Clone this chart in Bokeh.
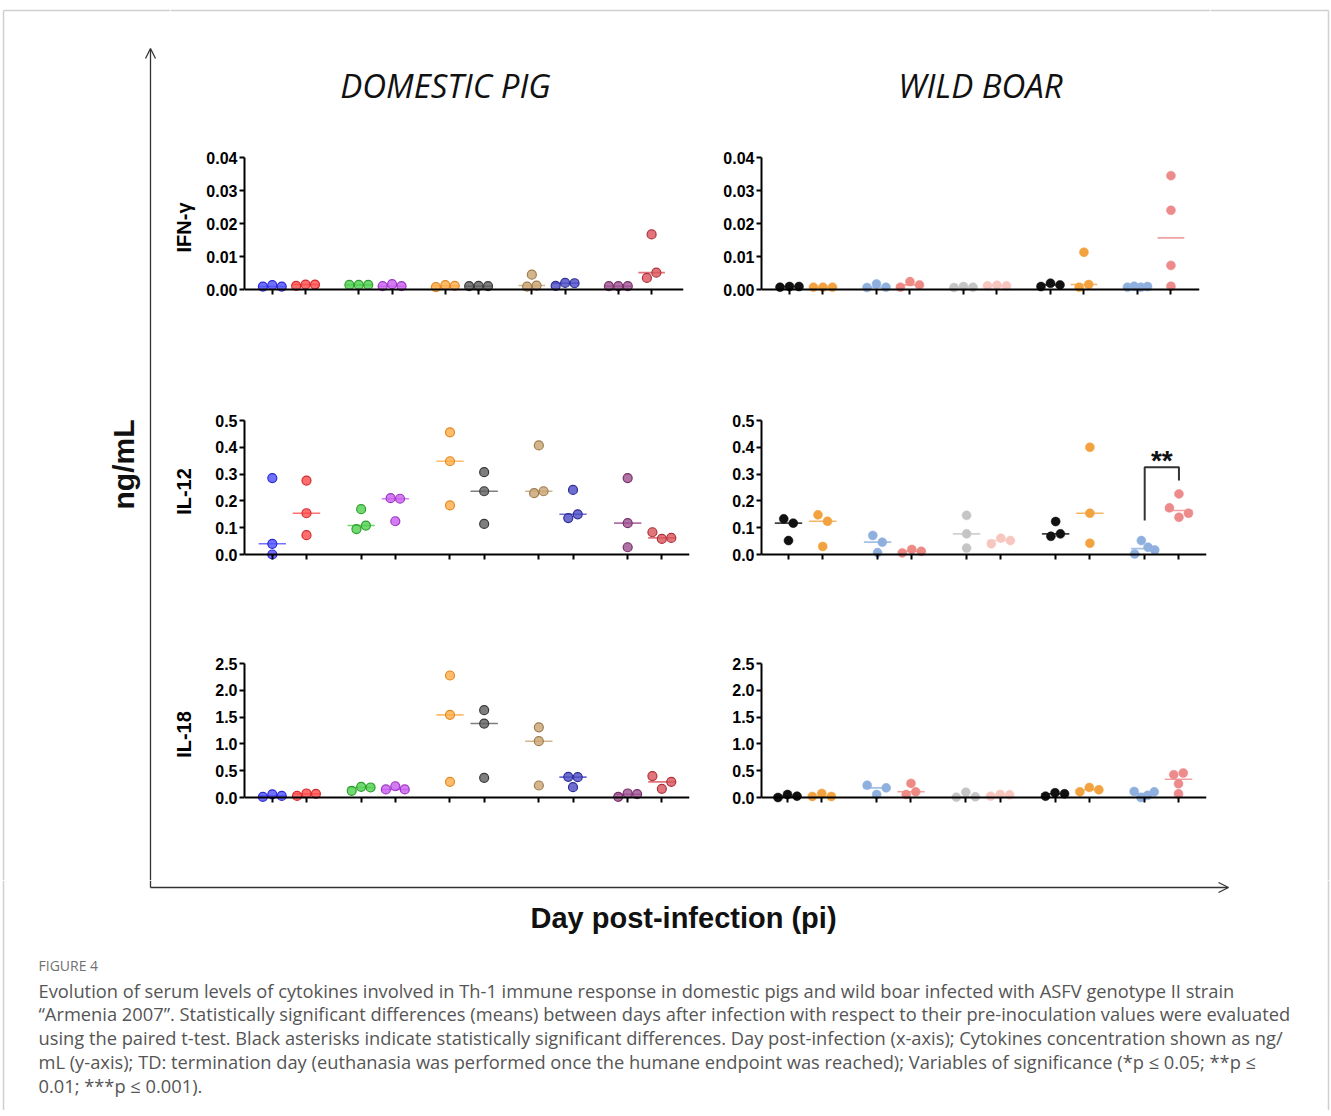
import math
from bokeh.plotting import figure
from bokeh.layouts import row, column
from bokeh.models import (Range1d, LinearAxis, FixedTicker, NumeralTickFormatter,
                          Arrow, OpenHead, ColumnDataSource)
from bokeh.core.properties import value
from bokeh.embed import file_html
from bokeh.resources import INLINE

# ---------------- data ----------------
day_labels = ["0", "1", "0", "2", "0", "3", "0", "5", "0", "TD"]
group_pos = [0, 1, 2.6, 3.6, 5.2, 6.2, 7.8, 8.8, 10.4, 11.4]

cytokines = ["IFN-γ", "IL-12", "IL-18"]
species = ["DOMESTIC PIG", "WILD BOAR"]

ifn_ticks = [0.0, 0.01, 0.02, 0.03, 0.04]
il12_ticks = [0.0, 0.1, 0.2, 0.3, 0.4, 0.5]
il18_ticks = [0.0, 0.5, 1.0, 1.5, 2.0, 2.5]

dp_ifn = [[0.0009, 0.0013, 0.0009], [0.0011, 0.0015, 0.0015], [0.0014, 0.0014, 0.0014],
          [0.0010, 0.0016, 0.0010], [0.0007, 0.0013, 0.0011], [0.0010, 0.0011, 0.0010],
          [0.0009, 0.0045, 0.0012], [0.0011, 0.0020, 0.0019], [0.0010, 0.0010, 0.0010],
          [0.0035, 0.0167, 0.0051]]
wb_ifn = [[0.0007, 0.0009, 0.0009], [0.0007, 0.0007, 0.0007], [0.0006, 0.0017, 0.0007],
          [0.0007, 0.0024, 0.0014], [0.0006, 0.0009, 0.0007], [0.0011, 0.0013, 0.0011],
          [0.0009, 0.0019, 0.0014], [0.0007, 0.0113, 0.0015], [0.0007, 0.0010, 0.0007, 0.0009],
          [0.0345, 0.0240, 0.0073, 0.0010]]
dp_il12 = [[0.285, 0.040, 0.0], [0.276, 0.154, 0.072], [0.095, 0.169, 0.108],
           [0.210, 0.124, 0.208], [0.456, 0.348, 0.183], [0.307, 0.236, 0.114],
           [0.229, 0.407, 0.236], [0.136, 0.241, 0.150], [0.285, 0.117, 0.027],
           [0.083, 0.058, 0.062]]
wb_il12 = [[0.133, 0.052, 0.117], [0.148, 0.030, 0.124], [0.071, 0.007, 0.046],
           [0.006, 0.019, 0.012], [0.146, 0.077, 0.024], [0.040, 0.061, 0.052],
           [0.068, 0.123, 0.077], [0.400, 0.154, 0.042], [0.002, 0.052, 0.027, 0.017],
           [0.174, 0.139, 0.226, 0.154]]
dp_il18 = [[0.012, 0.060, 0.030], [0.030, 0.075, 0.068], [0.124, 0.200, 0.187],
           [0.150, 0.210, 0.150], [2.276, 1.542, 0.292], [1.630, 1.380, 0.367],
           [1.310, 1.050, 0.224], [0.386, 0.193, 0.380], [0.012, 0.075, 0.062],
           [0.400, 0.162, 0.292]]
wb_il18 = [[0.0, 0.056, 0.025], [0.019, 0.075, 0.019], [0.230, 0.056, 0.180],
           [0.056, 0.263, 0.106], [0.006, 0.100, 0.012], [0.025, 0.056, 0.050],
           [0.025, 0.088, 0.069], [0.106, 0.188, 0.144], [0.113, 0.0, 0.040, 0.106],
           [0.426, 0.457, 0.257, 0.069]]

# significance: wild boar IL-12, day 0 vs TD
sig_groups = (8, 9)
sig_bracket_y = (0.127, 0.326, 0.276)
sig_label = "**"

caption_title = "FIGURE 4"
caption_lines = [
    "Evolution of serum levels of cytokines involved in Th-1 immune response in domestic pigs and wild boar infected with ASFV genotype II strain",
    "\u201cArmenia 2007\u201d. Statistically significant differences (means) between days after infection with respect to their pre-inoculation values were evaluated",
    "using the paired t-test. Black asterisks indicate statistically significant differences. Day post-infection (x-axis); Cytokines concentration shown as ng/",
    "mL (y-axis); TD: termination day (euthanasia was performed once the humane endpoint was reached); Variables of significance (*p \u2264 0.05; **p \u2264",
    "0.01; ***p \u2264 0.001).",
]

# ---------------- styles ----------------
dp_fill = ["#4d4dff", "#ff4a4a", "#4ccf4c", "#c95cf0", "#ffab47",
           "#5e5e5e", "#c9a472", "#4a4ac4", "#9e4f8e", "#d9525a"]
dp_edge = ["#2b2bd6", "#d42c2c", "#2f9e2f", "#9c38c4", "#e08a22",
           "#3a3a3a", "#a17c4c", "#2e2e96", "#77306a", "#ad343c"]
wb_fill = ["#111111", "#f2a23f", "#8fb0df", "#ed8a84", "#c5c5c5",
           "#f7c6be", "#111111", "#f2a23f", "#8fb0df", "#ec8a8c"]

TICK_FONT = "Liberation Sans"
BORDER = "#d0d0d0"
ARROW = "#333333"


def swarm(vals, px_per_y, thresh=7.0):
    """Beeswarm offsets (px): points closer than thresh in y are spread sideways."""
    n = len(vals)
    order = sorted(range(n), key=lambda i: vals[i])
    clusters = [[order[0]]]
    for a, b in zip(order, order[1:]):
        if (vals[b] - vals[a]) * px_per_y < thresh:
            clusters[-1].append(b)
        else:
            clusters.append([b])
    off = [0.0] * n
    for c in clusters:
        c = sorted(c)
        k = len(c)
        step = 9.5 if k <= 3 else 6.7
        for j, i in enumerate(c):
            off[i] = (j - (k - 1) / 2) * step
    return off


def median(v):
    s = sorted(v)
    n = len(s)
    return s[n // 2] if n % 2 else (s[n // 2 - 1] + s[n // 2]) / 2


def make_panel(groups, fills, edges, dp_style, ticks, fmt, ylabel, unit_px, first_px,
               width, mbl, mbr, height, mbt, mbb, label_standoff):
    top = ticks[-1]
    fh = height - mbt - mbb
    fw = width - mbl - mbr
    pad = 8
    y0 = -top * pad / (fh - pad)
    x0 = -first_px / unit_px
    xr = (x0, x0 + fw / unit_px)
    p = figure(width=width, height=height, x_range=Range1d(*xr), y_range=Range1d(y0, top),
               x_axis_type=None, y_axis_type=None, toolbar_location=None,
               output_backend="svg", min_border_left=mbl, min_border_right=mbr,
               min_border_top=mbt, min_border_bottom=mbb, outline_line_color=None,
               background_fill_color="white", border_fill_color="white")
    px_x = unit_px
    px_y = fh / (top - y0)

    xs, ys, fc, lc = [], [], [], []
    for g, vals in enumerate(groups):
        offs = swarm(vals, px_y)
        for v, o in zip(vals, offs):
            xs.append(group_pos[g] + o / px_x)
            ys.append(v)
            fc.append(fills[g])
            lc.append(edges[g])
    mx0 = [gp - 0.4 for gp in group_pos]
    mx1 = [gp + 0.4 for gp in group_pos]
    med = [median(v) for v in groups]
    p.segment(x0=mx0, x1=mx1, y0=med, y1=med, line_color=fills,
              line_width=1.6, line_alpha=0.8)
    src = ColumnDataSource(dict(x=xs, y=ys, fc=fc, lc=lc))
    p.scatter("x", "y", source=src, size=9, fill_color="fc", line_color="lc",
              fill_alpha=0.8 if dp_style else 1.0, line_width=1.2 if dp_style else 0.5)

    yaxis = LinearAxis(ticker=FixedTicker(ticks=ticks), formatter=NumeralTickFormatter(format=fmt),
                       bounds=(0, top))
    xaxis = LinearAxis(ticker=FixedTicker(ticks=group_pos),
                       major_label_overrides={gp: lab for gp, lab in zip(group_pos, day_labels)},
                       fixed_location=0)
    for ax in (yaxis, xaxis):
        ax.axis_line_width = 2
        ax.axis_line_color = "black"
        ax.major_tick_line_width = 2
        ax.major_tick_line_color = "black"
        ax.major_tick_out = 5
        ax.major_tick_in = 0
        ax.minor_tick_out = 0
        ax.minor_tick_in = 0
        ax.major_label_text_font = TICK_FONT
        ax.major_label_text_font_style = "bold"
        ax.major_label_text_font_size = "16px"
        ax.major_label_text_color = "black"
    yaxis.major_label_standoff = 2
    xaxis.major_label_standoff = 4
    if ylabel:
        yaxis.axis_label = ylabel
        yaxis.axis_label_text_font = TICK_FONT
        yaxis.axis_label_text_font_style = "bold"
        yaxis.axis_label_text_font_size = "20px"
        yaxis.axis_label_standoff = label_standoff
        yaxis.axis_label_text_color = "black"
    p.add_layout(yaxis, "left")
    p.add_layout(xaxis, "below")
    return p


def canvas(w, h):
    f = figure(width=w, height=h, x_range=Range1d(0, w), y_range=Range1d(h, 0),
               x_axis_type=None, y_axis_type=None, toolbar_location=None,
               output_backend="svg", min_border=0, outline_line_color=None,
               background_fill_color="white", border_fill_color="white")
    return f


# ---------------- layout geometry (page pixels) ----------------
W_LEFT, W_PANEL, W_RIGHT = 170, 520, 121
H_TITLE = 140
row_spec = [(190, 17, 33), (260, 90, 28), (290, 73, 75)]
H_MID = H_TITLE + sum(r[0] for r in row_spec)
W_ALL = W_LEFT + 2 * W_PANEL + W_RIGHT
H_BOTTOM = 230

# per row: (unit px, first-group px offset from frame left, mbr) for DP and WB panels
dp_geom = [(33.5, 28, 7), (34.4, 28, 1), (34.4, 28, 1)]
wb_geom = [(33.46, 28, 11), (34.25, 27, 4), (34.3, 26, 4)]

panel_data = [
    (dp_ifn, wb_ifn, ifn_ticks, "0.00", 8),
    (dp_il12, wb_il12, il12_ticks, "0.0", 17),
    (dp_il18, wb_il18, il18_ticks, "0.0", 17),
]

panel_rows = []
for k, (dpv, wbv, ticks, fmt, lstand) in enumerate(panel_data):
    h, mbt, mbb = row_spec[k]
    u, f0, mr = dp_geom[k]
    pd_ = make_panel(dpv, dp_fill, dp_edge, True, ticks, fmt, cytokines[k], u, f0,
                     W_PANEL, 71, mr, h, mbt, mbb, lstand)
    u, f0, mr = wb_geom[k]
    pw_ = make_panel(wbv, wb_fill, wb_fill, False, ticks, fmt, None, u, f0,
                     W_PANEL, 71, mr, h, mbt, mbb, lstand)
    if k == 1:
        ga, gb = sig_groups
        xa, xb = group_pos[ga], group_pos[gb]
        pw_.line(x=[xa, xa, xb, xb],
                 y=[sig_bracket_y[0], sig_bracket_y[1], sig_bracket_y[1], sig_bracket_y[2]],
                 line_color="#333333", line_width=2)
        pw_.text(x=[(xa + xb) / 2], y=[sig_bracket_y[1] + 0.025], text=[sig_label],
                 text_font=value(TICK_FONT), text_font_style="bold", text_font_size="28px",
                 text_align="center", text_baseline="middle", text_color="#111111")
    panel_rows.append(row(pd_, pw_))

# titles
title_fig = canvas(2 * W_PANEL, H_TITLE)
title_fig.segment(x0=[0], y0=[10], x1=[2 * W_PANEL], y1=[10], line_color=BORDER, line_width=1.5)
title_fig.text(x=[275, 810], y=[85, 85], text=species, text_font=value("Open Sans"),
               text_font_style="italic", text_font_size="33px", text_align="center",
               text_baseline="middle", text_color="#111111")

# left column: border, vertical arrow, y label
left_fig = canvas(W_LEFT, H_MID)
left_fig.segment(x0=[3, 3], y0=[10, 10], x1=[3, W_LEFT], y1=[H_MID, 10],
                 line_color=BORDER, line_width=1.5)
left_fig.add_layout(Arrow(end=OpenHead(size=10, line_width=1.3, line_color=ARROW),
                          x_start=150, y_start=H_MID, x_end=150, y_end=48,
                          line_width=1.3, line_color=ARROW))
left_fig.text(x=[123], y=[464], text=["ng/mL"], angle=math.pi / 2,
              text_font=value(TICK_FONT), text_font_style="bold", text_font_size="30px",
              text_align="center", text_baseline="middle", text_color="#111111")

# right column: border
right_fig = canvas(W_RIGHT, H_MID)
right_fig.segment(x0=[0, 118], y0=[10, 10], x1=[118, 118], y1=[10, H_MID],
                  line_color=BORDER, line_width=1.5)

# bottom: horizontal arrow, x label, caption
bottom_fig = canvas(W_ALL, H_BOTTOM)
bottom_fig.segment(x0=[3, 1328], y0=[0, 0], x1=[3, 1328], y1=[H_BOTTOM, H_BOTTOM],
                   line_color=BORDER, line_width=1.5)
bottom_fig.segment(x0=[150], y0=[0], x1=[150], y1=[7], line_color=ARROW, line_width=1.3)
bottom_fig.add_layout(Arrow(end=OpenHead(size=10, line_width=1.3, line_color=ARROW),
                            x_start=150, y_start=7, x_end=1228, y_end=7,
                            line_width=1.3, line_color=ARROW))
bottom_fig.text(x=[683], y=[37], text=["Day post-infection (pi)"], text_font=value(TICK_FONT),
                text_font_style="bold", text_font_size="29px", text_align="center",
                text_baseline="middle", text_color="#111111")
bottom_fig.text(x=[38], y=[85], text=[caption_title], text_font=value("Open Sans"),
                text_font_size="14px", text_align="left", text_baseline="middle",
                text_color="#707070")
cap_y = [110, 133, 157, 181, 205]
bottom_fig.text(x=[38] * len(caption_lines), y=cap_y, text=caption_lines,
                text_font=value("Open Sans"), text_font_size="18.3px", text_align="left",
                text_baseline="middle", text_color="#555555")

mid_col = column(title_fig, *panel_rows)
p = column(row(left_fig, mid_col, right_fig), bottom_fig)

open("out.html", "w").write(file_html(p, INLINE))
